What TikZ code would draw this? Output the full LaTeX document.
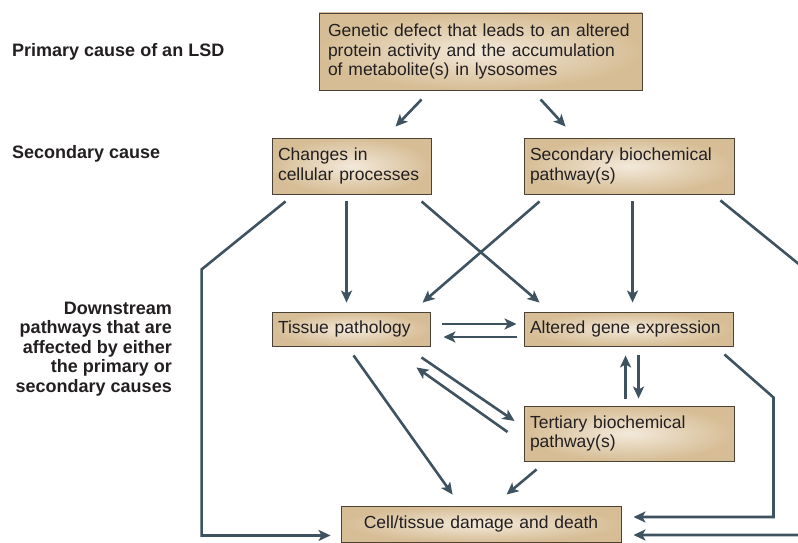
\documentclass[tikz,border=0pt]{standalone}
\usepackage{fontspec}
\setmainfont{Liberation Sans}
\usetikzlibrary{arrows.meta}
\hyphenpenalty=10000
\exhyphenpenalty=10000

\definecolor{tanLSD}{HTML}{d6bd95}
\definecolor{lightLSD}{HTML}{f3e9da}
\definecolor{edgeLSD}{HTML}{4a4236}
\definecolor{arrowLSD}{HTML}{3e5260}
\definecolor{inkLSD}{HTML}{231f20}

\tikzset{
  lsdbox/.style={draw=edgeLSD, line width=0.9pt, inner color=lightLSD, outer color=tanLSD,
    text=inkLSD, align=left, inner xsep=6pt, inner ysep=0pt,
    font=\fontsize{17.5}{19.5}\selectfont},
  sidelabel/.style={text=inkLSD, inner sep=0pt, font=\fontsize{18}{19.5}\selectfont\bfseries},
  link/.style={draw=arrowLSD, line width=2.6pt,
    -{Stealth[length=12pt,width=11pt,inset=3pt]}},
}

\begin{document}
\begin{tikzpicture}[x=1pt,y=-1pt]
\useasboundingbox (0,0) rectangle (798,543);

% side labels
\node[sidelabel, anchor=west] (primLab) at (12,52) {Primary cause of an LSD};
\node[sidelabel, anchor=west] (secLab) at (12,154) {Secondary cause};
\node[sidelabel, anchor=east, align=right] (downLab) at (172,349)
  {Downstream\\pathways that are\\affected by either\\the primary or\\secondary causes};

% boxes
\node[lsdbox, inner xsep=9pt, text width=305pt, minimum height=77pt] (gen) at (480.5,51.5)
  {Genetic defect that leads to an altered\\protein activity and the accumulation\\of metabolite(s) in lysosomes};
\node[lsdbox, text width=147pt, minimum height=56pt] (chg) at (351.5,166)
  {Changes in\\cellular processes};
\node[lsdbox, text width=198pt, minimum height=56pt] (sec) at (629,166)
  {Secondary biochemical\\pathway(s)};
\node[lsdbox, text width=146pt, minimum height=34pt] (tis) at (351,329)
  {Tissue pathology};
\node[lsdbox, text width=197pt, minimum height=34pt] (alt) at (628.5,329)
  {Altered gene expression};
\node[lsdbox, text width=198pt, minimum height=55pt] (ter) at (629,433.5)
  {Tertiary biochemical\\pathway(s)};
\node[lsdbox, align=center, text width=268pt, minimum height=36pt] (cell) at (481,524)
  {Cell/tissue damage and death};

% primary -> secondary level
\draw[link] ([shift={(103,9)}]gen.south west) -- ([shift={(124,-11)}]chg.north west);
\draw[link] ([shift={(222,9)}]gen.south west) -- ([shift={(42,-11)}]sec.north west);

% secondary -> downstream
\draw[link] ([shift={(75,7)}]chg.south west) -- ([shift={(75,-9)}]tis.north west);
\draw[link] ([shift={(150,7)}]chg.south west) -- ([shift={(16,-9)}]alt.north west);
\draw[link] ([shift={(16,7)}]sec.south west) -- ([shift={(151,-9)}]tis.north west);
\draw[link] ([shift={(109,7)}]sec.south west) -- ([shift={(109,-9)}]alt.north west);

% long routes to cell damage
\coordinate (leftBend) at ([shift={(-70,75)}]chg.south west);
\draw[link] ([shift={(14,7)}]chg.south west) -- (leftBend) |- ([shift={(-10,-7)}]cell.south west);
\coordinate (outRight) at ([shift={(71,75)}]sec.south east);
\draw[link] ([shift={(-14,6)}]sec.south east) -- (outRight) |- ([shift={(12,11)}]cell.east);
\coordinate (altBend) at ([shift={(40,51)}]alt.south east);
\draw[link] ([shift={(-9,8)}]alt.south east) -- (altBend) |- ([shift={(12,-7)}]cell.east);

% downstream interactions
\draw[link] ([shift={(12,-5)}]tis.east) -- ([shift={(-7,-5)}]alt.west);
\draw[link] ([shift={(-7,8)}]alt.west) -- ([shift={(13,8)}]tis.east);
\draw[link] ([shift={(-9,11)}]tis.south east) -- ([shift={(-9,-12.5)}]ter.west);
\draw[link] ([shift={(-16,-1.5)}]ter.west) -- ([shift={(-14,21)}]tis.south east);
\draw[link] ([shift={(102,-7)}]ter.north west) -- ([shift={(102,9)}]alt.south west);
\draw[link] ([shift={(115,9)}]alt.south west) -- ([shift={(115,-7)}]ter.north west);
\draw[link] ([shift={(82,9)}]tis.south west) -- ([shift={(112,-11)}]cell.north west);
\draw[link] ([shift={(13,8)}]ter.south west) -- ([shift={(166,-11)}]cell.north west);
\end{tikzpicture}
\end{document}
